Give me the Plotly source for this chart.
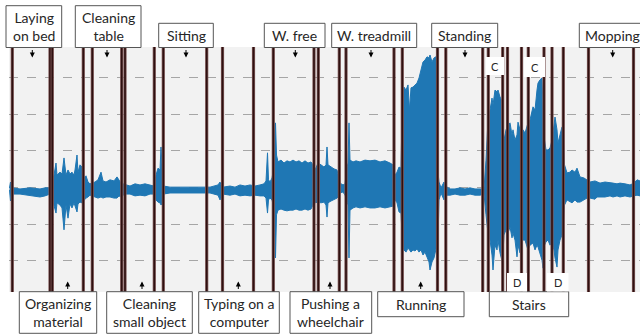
import plotly.graph_objects as go

# ---------------- data ----------------
t = [9.5, 10.5, 11.5, 12.5, 20, 30, 40, 45, 50, 52.5, 54, 56, 57, 60, 62, 64, 66, 68, 70, 72, 74, 75, 77, 78, 80, 82, 84, 86, 88, 90,
     92, 95, 98, 101, 103, 106, 110, 114, 117, 119, 121, 123, 126, 130, 135, 140, 145, 150, 154, 156, 158, 160, 161, 162, 163.5,
     170, 180, 190, 200, 206, 210, 218, 220, 221, 223, 230, 235, 240, 245, 250, 255, 260, 264, 266, 267.5, 268.5, 270, 272, 273,
     274.5, 275.5, 276.5, 278, 281, 284, 287, 290, 293, 296, 299, 302, 305, 308, 311, 313, 315, 318, 321, 324, 326, 327, 328, 331,
     334, 337, 339, 340, 343, 345, 346.5, 348, 349, 350, 353, 356, 360, 365, 370, 375, 380, 385, 390, 393, 395, 397, 399, 401,
     402.5, 404, 406, 408, 409.5, 411, 413, 415, 417, 419, 421, 423, 425, 427, 429, 430, 432, 434, 436, 437, 438, 439, 441, 444,
     445.5, 450, 455, 460, 465, 470, 475, 480, 484, 486, 488, 490, 492, 493, 495, 497, 498, 500, 501.5, 502.5, 504, 506, 508, 510,
     512, 513, 515, 517, 518, 520, 521.5, 523, 525, 528, 530, 533, 535, 537, 538, 540, 542, 543, 544.5, 546, 548, 550, 552, 554,
     555, 557, 558, 560, 562, 563, 564.5, 567, 570, 572, 575, 577, 580, 584, 587, 590, 595, 597, 600, 605, 610, 613, 617, 620,
     625, 630, 634, 637, 640]
upper = [-0.01, 0.15, 0.10, -0.01, -0.04, -0.01, -0.04, -0.01, -0.01, 0.21, 0.34, 0.67, 0.34, 0.42, 0.37, 0.81, 0.34, 0.48, 0.37,
         0.42, 0.34, 0.48, 0.89, 0.42, 0.62, 0.56, 0.26, 0.32, 0.15, 0.10,
         0.12, 0.15, 0.21, 0.42, 0.18, 0.15, 0.21, 0.18, 0.29, 0.21, 0.12, 0.10, 0.07, 0.04, 0.10, 0.07, 0.10, 0.07, 0.04, 0.34,
         0.53, 0.48, 1.11, 0.62, 0.04,
         0.01, 0.01, 0.01, -0.01, 0.01, 0.01, 0.07, 0.15, 0.07, 0.01, 0.04, 0.01, 0.07, 0.04, 0.07, 0.04, 0.07, 0.10, 0.18, 0.95,
         0.21, 0.15, 0.26, 0.42,
         1.49, 1.77, 0.89, 0.70, 0.75, 0.67, 0.73, 0.70, 0.75, 0.70, 0.73, 0.67, 0.73, 0.67, 0.70, 0.62, 0.48, 0.67, 0.62, 0.56,
         0.62, 1.11, 0.62, 0.56,
         0.51, 0.48, 0.26, 0.12, 0.07, 0.10, 0.48, 0.67, 1.77, 0.75, 0.70, 0.73, 0.70, 0.75, 0.73, 0.75, 0.70, 0.73, 0.67, 0.62,
         0.34, 0.42, 0.56, 0.53,
         2.67, 2.75, 2.67, 2.81, 2.12, 2.73, 2.75, 2.81, 2.86, 3.00, 3.22, 3.44, 3.49, 3.58, 3.55, 3.63, 3.44, 3.55, 3.58, 3.49,
         0.42, 0.15, -0.01, 0.15,
         0.04, -0.04, -0.04, -0.01, -0.04, -0.01, -0.04, -0.04, -0.04, 0.75, 1.85, 2.12, 2.45, 2.26, 2.67, 2.62, 2.67, 2.48, 2.40,
         1.58, 1.30, 1.58, 1.71, 1.77,
         1.44, 1.58, 1.30, 1.44, 1.79, 1.58, 1.22, 1.58, 1.49, 1.77, 1.85, 2.21, 2.12, 2.67, 2.86, 2.95, 3.00, 2.21, 1.30, 1.03,
         1.03, 1.08, 1.30, 1.71,
         1.93, 1.58, 1.22, 1.44, 1.66, 1.66, 0.62, 0.40, 0.42, 0.48, 0.42, 0.53, 0.29, 0.26, 0.21, 0.15, 0.18, 0.15, 0.12, 0.15,
         0.12, 0.12, 0.10, 0.12,
         0.10, 0.07, 0.12, 0.21, 0.18]
lower = [-0.07, -0.37, -0.32, -0.18, -0.18, -0.21, -0.26, -0.23, -0.18, -0.34, -0.48, -0.70, -0.42, -0.48, -0.56, -1.16, -0.48,
         -0.84, -0.45, -0.56, -0.42, -0.51, -0.67, -0.45, -0.40, -0.42, -0.34, -0.29, -0.26, -0.21,
         -0.23, -0.26, -0.29, -0.26, -0.29, -0.26, -0.26, -0.29, -0.29, -0.23, -0.26, -0.21, -0.18, -0.18, -0.23, -0.21, -0.23,
         -0.18, -0.18, -0.34, -0.40, -0.42, -0.48, -0.45, -0.18,
         -0.15, -0.15, -0.15, -0.15, -0.15, -0.15, -0.21, -0.34, -0.29, -0.18, -0.21, -0.18, -0.23, -0.21, -0.23, -0.21, -0.23,
         -0.23, -0.29, -0.70, -0.34, -0.29, -0.34, -0.48,
         -0.62, -1.93, -0.75, -0.62, -0.59, -0.62, -0.64, -0.62, -0.62, -0.59, -0.62, -0.62, -0.59, -0.62, -0.59, -0.48, -0.42,
         -0.40, -0.42, -0.40, -0.48, -0.81, -0.42, -0.37,
         -0.34, -0.29, -0.23, -0.15, -0.12, -0.21, -0.34, -0.48, -1.93, -0.62, -0.56, -0.53, -0.56, -0.53, -0.56, -0.56, -0.53,
         -0.56, -0.53, -0.51, -0.34, -0.42, -0.67, -0.70,
         -1.58, -1.71, -1.77, -1.66, -1.71, -1.77, -1.71, -1.74, -1.68, -1.77, -1.71, -1.85, -1.77, -1.93, -2.04, -2.26, -2.04,
         -1.93, -1.71, -1.58, -1.44, -0.34, -0.15, -0.34,
         -0.21, -0.21, -0.18, -0.21, -0.21, -0.18, -0.21, -0.21, -0.18, -0.75, -1.25, -1.44, -1.85, -2.26, -1.58, -1.71, -1.44,
         -1.79, -1.93, -2.07, -1.30, -1.16, -1.25, -1.08,
         -1.38, -1.25, -1.44, -1.90, -1.58, -1.79, -1.30, -1.44, -1.44, -1.71, -1.58, -1.52, -1.71, -1.58, -1.63, -1.85, -1.99,
         -2.21, -1.58, -1.49, -1.44, -1.58, -1.52, -1.71,
         -1.93, -2.18, -1.71, -1.44, -1.30, -1.08, -0.48, -0.34, -0.40, -0.42, -0.34, -0.40, -0.40, -0.34, -0.29, -0.29, -0.32,
         -0.26, -0.26, -0.26, -0.23, -0.26, -0.23, -0.26,
         -0.23, -0.26, -0.23, -0.21, -0.23]

# activity boundaries (time units)
boundaries = [12.3, 50, 52.3, 83.3, 92.3, 121.7, 125, 154.3, 163.3, 206.7, 222.5, 253.5, 273.3, 314, 318.3, 339.3, 346,
              394, 402.3, 437.5, 445.8, 482.7, 488.3, 502.7, 507.5, 521.5, 528.3, 544, 552, 563.3, 588.5, 633.5]

# labels above the trace: (text, box left, box right, box top, arrow x)
top_labels = [
    ("Laying<br>on bed", 6, 61.7, 5.7, 32.3),
    ("Cleaning<br>table", 75.3, 141, 5.7, 107),
    ("Sitting", 158.7, 213.3, 23.3, 186),
    ("W. free", 264.3, 325, 23.3, 295.3),
    ("W. treadmill", 331.7, 416.7, 23.3, 371),
    ("Standing", 431.7, 497.7, 23.3, 465),
    ("Mopping", 579.3, 652, 23.3, 612.7),
]
# labels below the trace: (text, box left, box right, box bottom, arrow x or None)
bottom_labels = [
    ("Organizing<br>material", 19.3, 96.7, 333.3, 67.7),
    ("Cleaning<br>small object", 106.7, 192.3, 333.3, 142),
    ("Typing on a<br>computer", 198.7, 279.3, 333.3, 238.3),
    ("Pushing a<br>wheelchair", 290, 371.7, 333.3, 330),
    ("Running", 377.7, 464, 316.7, 420.7),
    ("Stairs", 489.3, 568.7, 316.7, None),
]
# small stair markers: (text, left, right, top, bottom)
stair_marks = [("C", 486, 504, 57, 75), ("C", 524, 545, 57, 77),
               ("D", 507, 527, 273, 291.5), ("D", 547, 568.5, 273, 291.5)]

# ---------------- layout geometry ----------------
W, H = 640, 335
ML, MR, MT, MB = 9, 0, 47, 43
PW, PH = W - ML - MR, H - MT - MB
X0, X1 = 9, 640
Y_TOP, Y_BOT = 3.849, -2.863


def px(x):
    return (x - ML) / PW


def py(y):
    return (H - MB - y) / PH


FONT = dict(family="Lato, 'Open Sans', sans-serif", size=14, color="#262626")
BLUE = "#1f77b4"

fig = go.Figure()
fig.add_trace(go.Scatter(x=t, y=lower, mode="lines", line=dict(color=BLUE, width=1),
                         hoverinfo="skip", showlegend=False))
fig.add_trace(go.Scatter(x=t, y=upper, mode="lines", line=dict(color=BLUE, width=1),
                         fill="tonexty", fillcolor=BLUE, hoverinfo="skip", showlegend=False))

shapes = []
for b in boundaries:
    shapes.append(dict(type="line", xref="x", yref="paper", x0=b, x1=b, y0=0, y1=1,
                       line=dict(color="#7d5656", width=3.2)))
    shapes.append(dict(type="line", xref="x", yref="paper", x0=b, x1=b, y0=0, y1=1,
                       line=dict(color="#2e1010", width=1.6)))

annotations = []
for text, l, r, top, ax in top_labels:
    shapes.append(dict(type="rect", xref="paper", yref="paper", x0=px(l), x1=px(r), y0=py(top), y1=py(47.5),
                       line=dict(color="#555555", width=1), fillcolor="white", layer="above"))
    annotations.append(dict(xref="paper", yref="paper", x=px((l + r) / 2 if text != "Mopping" else 612.5),
                            y=py((top + 47.5) / 2), text=text, showarrow=False, font=FONT,
                            xanchor="center", yanchor="middle"))
    annotations.append(dict(xref="paper", yref="paper", x=px(ax), y=py(57.5), text="", showarrow=True,
                            ax=0, ay=-9, arrowhead=2, arrowsize=1, arrowwidth=1, arrowcolor="black"))
for text, l, r, bot, ax in bottom_labels:
    shapes.append(dict(type="rect", xref="paper", yref="paper", x0=px(l), x1=px(r), y0=py(bot), y1=py(291.7),
                       line=dict(color="#555555", width=1), fillcolor="white", layer="above"))
    annotations.append(dict(xref="paper", yref="paper", x=px((l + r) / 2),
                            y=py((bot + 291.7) / 2), text=text, showarrow=False, font=FONT,
                            xanchor="center", yanchor="middle"))
    if ax is not None:
        annotations.append(dict(xref="paper", yref="paper", x=px(ax), y=py(281.5), text="", showarrow=True,
                                ax=0, ay=9, arrowhead=2, arrowsize=1, arrowwidth=1, arrowcolor="black"))
for text, l, r, top, bot in stair_marks:
    shapes.append(dict(type="rect", xref="paper", yref="paper", x0=px(l), x1=px(r), y0=py(bot), y1=py(top),
                       line=dict(width=0), fillcolor="white", layer="above"))
    annotations.append(dict(xref="paper", yref="paper", x=px((l + r) / 2), y=py((top + bot) / 2), text=text,
                            showarrow=False, font=dict(family=FONT["family"], size=11, color="#262626"),
                            xanchor="center", yanchor="middle"))

fig.update_layout(
    width=W, height=H, margin=dict(l=ML, r=MR, t=MT, b=MB),
    paper_bgcolor="white", plot_bgcolor="#f2f2f2",
    shapes=shapes, annotations=annotations, showlegend=False,
    xaxis=dict(range=[X0, X1], showgrid=False, zeroline=False, showticklabels=False, ticks=""),
    yaxis=dict(range=[Y_BOT, Y_TOP], tickvals=[-2, -1, 0, 1, 2, 3], showgrid=True, gridcolor="#a6a6a6",
               griddash="dash", gridwidth=1, zeroline=False, showticklabels=False, ticks=""),
)
fig.write_html("out.html", config={"displayModeBar": False},
               post_script="document.body.style.margin='0';document.body.style.overflow='hidden';")
